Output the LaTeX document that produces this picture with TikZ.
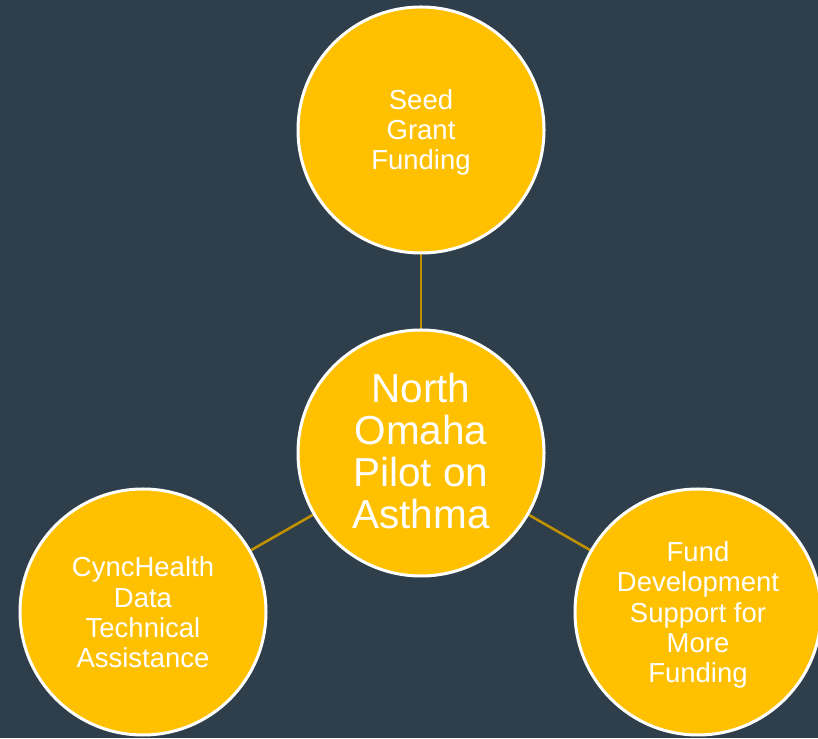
\documentclass[tikz,border=0pt]{standalone}
\usepackage{fontspec}
\setmainfont{Liberation Sans}
\definecolor{bg}{HTML}{2E3E4B}
\definecolor{gold}{HTML}{FFC000}
\definecolor{link}{HTML}{BF9000}
\begin{document}
\begin{tikzpicture}[x=1pt,y=1pt,
  bubble/.style={circle,fill=gold,draw=white,line width=3pt,minimum size=246pt,inner sep=0pt},
  label text/.style={text=white,align=center},
  small/.style={font=\fontsize{27.5}{30.3}\selectfont},
  big/.style={font=\fontsize{40.5}{42}\selectfont},
  conn/.style={draw=link,line width=2.6pt}]
\useasboundingbox (0,0) rectangle (818,738);
\fill[bg] (0,0) rectangle (818,738);
\begin{scope}
\clip (0,0) rectangle (818,738);
\coordinate (ct) at (421,285);
\coordinate (tt) at (421,608);
\coordinate (lt) at (143,126);
\coordinate (rt) at (698,126);
\draw[conn] (ct) -- (tt);
\draw[conn] (ct) -- (lt);
\draw[conn] (ct) -- (rt);
\node[bubble] (c) at (ct) {};
\node[label text,big] (ctext) at ([yshift=2]ct) {North\\Omaha\\Pilot on\\Asthma};
\node[bubble] (t) at (tt) {};
\node[label text,small] (ttext) at ([yshift=-2.5]tt) {Seed\\Grant\\Funding};
\node[bubble] (l) at (lt) {};
\node[label text,small] (ltext) at ([yshift=-0.5]lt) {CyncHealth\\Data\\Technical\\Assistance};
\node[bubble] (r) at (rt) {};
\node[label text,small] (rtext) at ([yshift=-3]rt) {Fund\\Development\\Support for\\More\\Funding};
\end{scope}
\end{tikzpicture}
\end{document}
